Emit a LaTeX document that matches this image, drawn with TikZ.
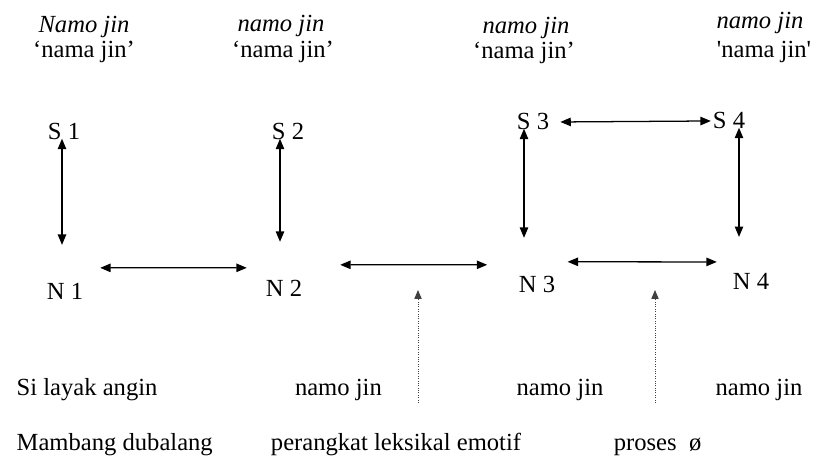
\documentclass[tikz,border=0pt]{standalone}
\usepackage{fontspec}
\setmainfont{Liberation Serif}
\usetikzlibrary{arrows.meta,calc}
\tikzset{
  lexnode/.style={
    anchor=base, inner sep=1pt,
    font=\fontsize{17.5}{21}\selectfont
  },
  formlabel/.style={
    anchor=base, inner sep=1pt,
    font=\fontsize{17.5}{21}\selectfont\itshape
  },
  glosslabel/.style={
    anchor=base, inner sep=1pt,
    font=\fontsize{17.5}{21}\selectfont
  },
  rowlabel/.style={
    anchor=base, inner sep=1pt,
    font=\fontsize{17.5}{21}\selectfont
  },
  biarrow/.style={
    {Triangle[length=2.6mm,width=2.1mm]}-{Triangle[length=2.6mm,width=2.1mm]},
    line width=0.9pt
  },
  dotarrow/.style={
    -{Triangle[length=2.2mm,width=1.8mm]},
    densely dotted, line width=0.7pt, draw=black!75
  },
}
\begin{document}
\begin{tikzpicture}
\useasboundingbox (0,0) rectangle (20.5,-11.5);

%% ── Top forms and glosses ────────────────────────────────────────────────
\node[formlabel] (f1) at (2.1,-0.82) {Namo jin};
\node[glosslabel] (g1) at (2.1,-1.45) {‘nama jin’};
\node[formlabel] (f2) at (7.025,-0.8) {namo jin};
\node[glosslabel] (g2) at (7.075,-1.44) {‘nama jin’};
\node[formlabel] (f3) at (13.15,-0.84) {namo jin};
\node[glosslabel] (g3) at (13.1,-1.46) {‘nama jin’};
\node[formlabel] (f4) at (19.0,-0.72) {namo jin};
\node[glosslabel] (g4) at (19.1,-1.43) {\textquotesingle nama jin\textquotesingle};

%% ── S row ────────────────────────────────────────────────────────────────
\node[lexnode] (s1) at (1.6,-3.5) {S 1};
\node[lexnode] (s2) at (7.2,-3.5) {S 2};
\node[lexnode] (s3) at (13.325,-3.25) {S 3};
\node[lexnode] (s4) at (18.225,-3.225) {S 4};

%% ── N row ────────────────────────────────────────────────────────────────
\node[lexnode] (n1) at (1.625,-7.5) {N 1};
\node[lexnode] (n2) at (7.1,-7.425) {N 2};
\node[lexnode] (n3) at (13.425,-7.325) {N 3};
\node[lexnode] (n4) at (18.775,-7.25) {N 4};

%% ── S -- N links ─────────────────────────────────────────────────────────
\draw[biarrow, shorten >=0.93cm] ([xshift=-0.05cm,yshift=0.08cm]s1.south) -- ([xshift=-0.05cm]s1.south |- n1.north);
\draw[biarrow, shorten >=0.93cm] ([xshift=-0.2cm,yshift=0.08cm]s2.south) -- ([xshift=-0.2cm]s2.south |- n2.north);
\draw[biarrow, shorten >=0.93cm] ([xshift=-0.225cm,yshift=0.08cm]s3.south) -- ([xshift=-0.225cm]s3.south |- n3.north);
\draw[biarrow, shorten >=0.88cm] ([xshift=0.25cm,yshift=0.08cm]s4.south) -- ([xshift=0.25cm]s4.south |- n4.north);

\draw[biarrow] ([xshift=0.24cm]s3.east) -- ([xshift=-0.01cm]s4.west);

%% ── N -- N links ─────────────────────────────────────────────────────────
\draw[biarrow] ([xshift=0.385cm,yshift=0.355cm]n1.north east) -- ([xshift=-0.435cm,yshift=0.28cm]n2.north west);
\draw[biarrow] ([xshift=0.91cm,yshift=0.355cm]n2.north east) -- ([xshift=-0.75cm,yshift=0.255cm]n3.north west);
\draw[biarrow] ([xshift=0.27cm,yshift=0.33cm]n3.north east) -- ([xshift=-0.36cm,yshift=0.255cm]n4.north west);

%% ── Dotted pointers ──────────────────────────────────────────────────────
\coordinate (p1foot) at (10.45,-10.075);
\coordinate (p1head) at (10.45,-7.25);
\coordinate (p2foot) at (16.375,-10.075);
\coordinate (p2head) at (16.375,-7.25);
\draw[dotarrow] (p1foot) -- (p1head);
\draw[dotarrow] (p2foot) -- (p2head);

%% ── Bottom rows ──────────────────────────────────────────────────────────
\node[rowlabel, anchor=base west] (r1a) at (0.375,-9.875) {Si layak angin};
\node[rowlabel] (r1b) at (8.46,-9.875) {namo jin};
\node[rowlabel] (r1c) at (14.0,-9.875) {namo jin};
\node[rowlabel] (r1d) at (18.975,-9.875) {namo jin};

\node[rowlabel, anchor=base west] (r2a) at (0.375,-11.25) {Mambang dubalang};
\node[rowlabel] (r2b) at (9.9,-11.25) {perangkat leksikal emotif};
\node[rowlabel] (r2c) at (16.44,-11.25) {proses\enspace ø};

\end{tikzpicture}
\end{document}
